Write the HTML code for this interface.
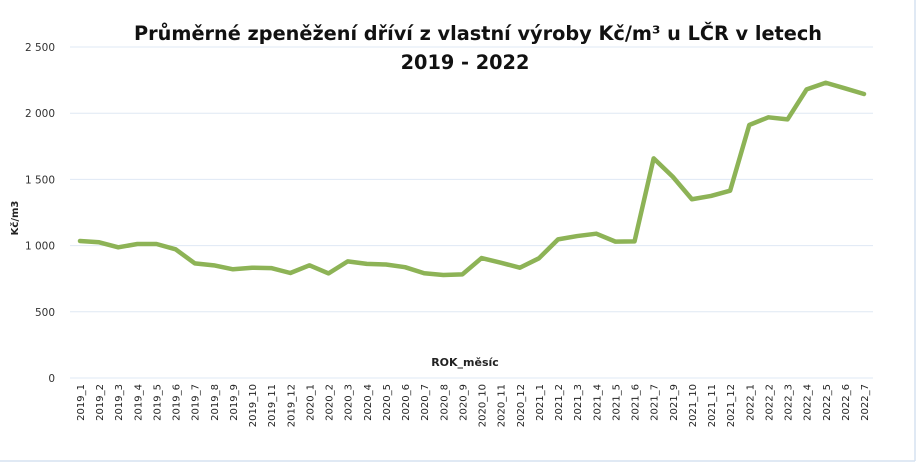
<!DOCTYPE html>
<html><head><meta charset="utf-8"><style>
html,body{margin:0;padding:0;background:#fff;}
svg{display:block;font-family:"Liberation Sans",sans-serif;}
</style></head><body>
<svg id="chart" width="920" height="463">
<line x1="915" y1="0" x2="915" y2="461" stroke="#d6e2f0" stroke-width="1.5"/>
<line x1="0" y1="461" x2="915" y2="461" stroke="#d6e2f0" stroke-width="1.5"/>
<text x="478" y="40" text-anchor="middle" font-size="19.3" font-weight="bold" fill="#111" font-family="DejaVu Sans, sans-serif">Průměrné zpeněžení dříví z vlastní výroby Kč/m³ u LČR v letech<tspan x="465" y="69">2019 - 2022</tspan></text>
<text transform="translate(18,218) rotate(-90)" text-anchor="middle" font-size="10" font-weight="bold" fill="#222" font-family="DejaVu Sans, sans-serif">Kč/m3</text>
<text x="465" y="366" text-anchor="middle" font-size="11" font-weight="bold" fill="#222" font-family="DejaVu Sans, sans-serif">ROK_měsíc</text>
<g id="grid"></g><g id="yticks"></g><g id="xticks"></g><g id="series"></g>
</svg>
<script>
const categories=["2019_1","2019_2","2019_3","2019_4","2019_5","2019_6","2019_7","2019_8","2019_9","2019_10","2019_11","2019_12","2020_1","2020_2","2020_3","2020_4","2020_5","2020_6","2020_7","2020_8","2020_9","2020_10","2020_11","2020_12","2021_1","2021_2","2021_3","2021_4","2021_5","2021_6","2021_7","2021_9","2021_10","2021_11","2021_12","2022_1","2022_2","2022_3","2022_4","2022_5","2022_6","2022_7"];
const values=[1035,1025,987,1012,1012,972,866,851,821,833,830,793,851,790,881,862,857,837,791,778,783,906,871,833,904,1047,1072,1090,1030,1032,1659,1520,1350,1375,1415,1911,1969,1953,2180,2230,2188,2145];
const yTicks=[0,500,1000,1500,2000,2500];
const yTickLabels=["0","500","1 000","1 500","2 000","2 500"];
const NS="http://www.w3.org/2000/svg";
const x0=80,x1=864,yBase=378,yTop=47,yMax=2500;
function xs(i){return x0+(x1-x0)*i/(categories.length-1);}
function ys(v){return yBase-(yBase-yTop)*v/yMax;}
function mk(tag,attrs,parent){const e=document.createElementNS(NS,tag);for(const k in attrs)e.setAttribute(k,attrs[k]);parent.appendChild(e);return e;}
const grid=document.getElementById('grid'),yt=document.getElementById('yticks'),xt=document.getElementById('xticks'),ser=document.getElementById('series');
yTicks.forEach((t,i)=>{
  const l=mk('line',{x1:70,x2:873,y1:ys(t),y2:ys(t),stroke:'#dfe8f4','stroke-width':1},grid);
  
  
  const tx=mk('text',{x:55,y:ys(t)+4,'text-anchor':'end','font-size':10.5,fill:'#333','font-family':'DejaVu Sans, sans-serif'},yt);
  tx.textContent=yTickLabels[i];
  
  
});
categories.forEach((c,i)=>{
  const tx=mk('text',{transform:`translate(${xs(i)+4},384) rotate(-90)`,'text-anchor':'end','font-size':10,fill:'#222','font-family':'DejaVu Sans, sans-serif'},xt);
  tx.textContent=c;
  
  
});
const p=mk('polyline',{points:values.map((v,i)=>xs(i)+','+ys(v)).join(' '),fill:'none',stroke:'#8db356','stroke-width':4.5,'stroke-linejoin':'round','stroke-linecap':'round'},ser);


</script>
</body></html>
